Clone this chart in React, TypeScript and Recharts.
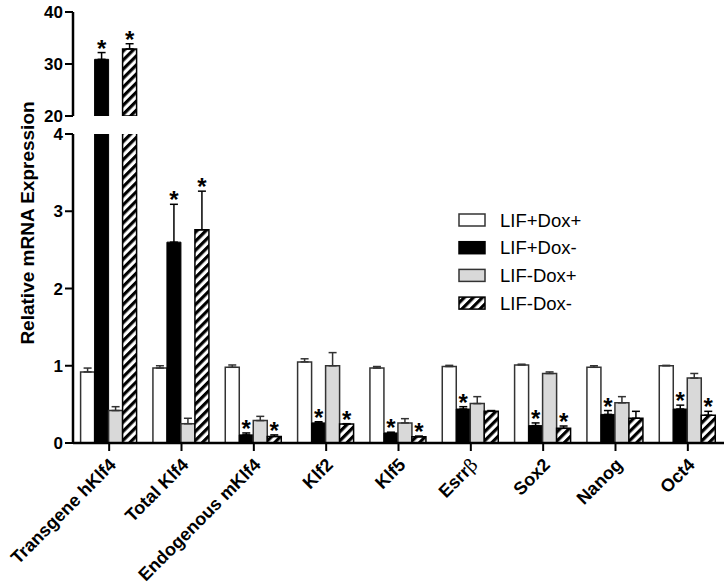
import React from "react";
import { BarChart, Bar, XAxis, YAxis, ErrorBar, LabelList, Legend } from "recharts";

const categories = [
  "Transgene hKlf4",
  "Total Klf4",
  "Endogenous mKlf4",
  "Klf2",
  "Klf5",
  "Esrrβ",
  "Sox2",
  "Nanog",
  "Oct4",
];

const seriesNames = ["LIF+Dox+", "LIF+Dox-", "LIF-Dox+", "LIF-Dox-"];

const lifDoxPos = [0.92, 0.97, 0.98, 1.05, 0.97, 0.99, 1.01, 0.98, 1.0];
const lifDoxPosErr = [0.05, 0.03, 0.03, 0.04, 0.02, 0.015, 0.01, 0.02, 0.005];

const lifDoxNeg = [30.9, 2.6, 0.105, 0.26, 0.13, 0.44, 0.225, 0.37, 0.44];
const lifDoxNegErr = [1.3, 0.49, 0.025, 0.015, 0.01, 0.03, 0.035, 0.05, 0.05];

const noLifDoxPos = [0.42, 0.25, 0.29, 1.0, 0.26, 0.51, 0.9, 0.52, 0.84];
const noLifDoxPosErr = [0.05, 0.07, 0.055, 0.17, 0.055, 0.09, 0.02, 0.08, 0.06];

const noLifDoxNeg = [32.9, 2.76, 0.085, 0.245, 0.08, 0.41, 0.19, 0.32, 0.36];
const noLifDoxNegErr = [1.0, 0.5, 0.02, 0.005, 0.01, 0.01, 0.03, 0.09, 0.05];

const sigLifDoxNeg = [true, true, true, true, true, true, true, true, true];
const sigNoLifDoxNeg = [true, true, true, true, true, false, true, false, true];

const lowerTicks = [0, 1, 2, 3, 4];
const upperTicks = [20, 30, 40];
const LOW_MAX = 4;
const HIGH_MIN = 20;
const HIGH_MAX = 40;

const FONT = '"Liberation Sans", Arial, Helvetica, sans-serif';

const inLow = (v: number) => v <= LOW_MAX;
const inHigh = (v: number) => v >= HIGH_MIN;

const lowerData = categories.map((name, i) => ({
  name,
  a: lifDoxPos[i],
  aErr: inLow(lifDoxPos[i]) ? [0, lifDoxPosErr[i]] : null,
  b: lifDoxNeg[i],
  bErr: inLow(lifDoxNeg[i]) ? [0, lifDoxNegErr[i]] : null,
  bSig: inLow(lifDoxNeg[i]) && sigLifDoxNeg[i] ? 1 : null,
  c: noLifDoxPos[i],
  cErr: inLow(noLifDoxPos[i]) ? [0, noLifDoxPosErr[i]] : null,
  d: noLifDoxNeg[i],
  dErr: inLow(noLifDoxNeg[i]) ? [0, noLifDoxNegErr[i]] : null,
  dSig: inLow(noLifDoxNeg[i]) && sigNoLifDoxNeg[i] ? 1 : null,
}));

const upperData = categories.map((name, i) => ({
  name,
  a: inHigh(lifDoxPos[i]) ? lifDoxPos[i] : null,
  aErr: inHigh(lifDoxPos[i]) ? [0, lifDoxPosErr[i]] : null,
  b: inHigh(lifDoxNeg[i]) ? lifDoxNeg[i] : null,
  bErr: inHigh(lifDoxNeg[i]) ? [0, lifDoxNegErr[i]] : null,
  bSig: inHigh(lifDoxNeg[i]) && sigLifDoxNeg[i] ? 1 : null,
  c: inHigh(noLifDoxPos[i]) ? noLifDoxPos[i] : null,
  cErr: inHigh(noLifDoxPos[i]) ? [0, noLifDoxPosErr[i]] : null,
  d: inHigh(noLifDoxNeg[i]) ? noLifDoxNeg[i] : null,
  dErr: inHigh(noLifDoxNeg[i]) ? [0, noLifDoxNegErr[i]] : null,
  dSig: inHigh(noLifDoxNeg[i]) && sigNoLifDoxNeg[i] ? 1 : null,
}));

const makeStar = (values: number[], errs: number[], base: number) => (props: any) => {
  const { value, index } = props;
  const vb = props.viewBox && props.viewBox.height != null ? props.viewBox : props;
  const { x, y, width, height } = vb;
  if (!value || height == null || !isFinite(height)) return null;
  const v = values[index];
  const ppu = height / (v - base);
  const errTop = y - errs[index] * ppu;
  return (
    <text
      x={x + width / 2}
      y={errTop + 4}
      textAnchor="middle"
      fontSize={24}
      fontWeight="bold"
      fontFamily={FONT}
      fill="#000"
    >
      *
    </text>
  );
};

const XTick = (props: any) => {
  const { x, y, payload } = props;
  const ax = x + 8;
  const ay = y + 15;
  const label = String(payload.value);
  const hasBeta = label.endsWith("β");
  return (
    <text
      x={ax}
      y={ay}
      textAnchor="end"
      transform={`rotate(-45, ${ax}, ${ay})`}
      fontFamily={FONT}
      fontWeight="bold"
      fontSize={18}
      fill="#000"
    >
      {hasBeta ? (
        <>
          {label.slice(0, -1)}
          <tspan fontFamily='"DejaVu Serif", serif' fontWeight="normal">
            β
          </tspan>
        </>
      ) : (
        label
      )}
    </text>
  );
};

const HatchDef = ({ id }: { id: string }) => (
  <defs>
    <pattern
      id={id}
      patternUnits="userSpaceOnUse"
      width={6.4}
      height={6.4}
      patternTransform="rotate(45)"
    >
      <rect x={0} y={0} width={6.4} height={6.4} fill="#fff" />
      <rect x={0} y={0} width={3.2} height={6.4} fill="#000" />
    </pattern>
  </defs>
);

const swatchFill = ["#ffffff", "#000000", "#d9d9d9", "url(#hatchLegend)"];
const swatchStroke = ["#333", "#000", "#333", "#000"];

const renderLegend = () => (
  <svg width={160} height={112} style={{ display: "block", overflow: "visible" }}>
    <HatchDef id="hatchLegend" />
    {seriesNames.map((n, i) => {
      const cy = 15 + i * 27.7;
      return (
        <g key={n}>
          <rect
            x={4}
            y={cy - 6}
            width={26}
            height={12}
            fill={swatchFill[i]}
            stroke={swatchStroke[i]}
            strokeWidth={1.5}
          />
          <text x={45} y={cy + 6.5} fontSize={18.5} fontFamily={FONT} fill="#000">
            {n}
          </text>
        </g>
      );
    })}
  </svg>
);

const YLabel = () => (
  <text
    x={27}
    y={223}
    transform="rotate(-90, 27, 223)"
    textAnchor="middle"
    dominantBaseline="central"
    fontFamily={FONT}
    fontWeight="bold"
    fontSize={19}
    fill="#000"
  >
    Relative mRNA Expression
  </text>
);

const axisLineStyle = { stroke: "#000", strokeWidth: 2.5 };
const tickLineStyle = { stroke: "#000", strokeWidth: 2 };
const yTickStyle = { fontSize: 17, fontWeight: "bold", fill: "#000", fontFamily: FONT };

const renderBars = (base: number, hatchId: string) => [
  <Bar key="a" dataKey="a" fill="#ffffff" stroke="#333" strokeWidth={1.5} isAnimationActive={false}>
    <ErrorBar dataKey="aErr" width={4} stroke="#333" strokeWidth={1.5} direction="y" />
  </Bar>,
  <Bar key="b" dataKey="b" fill="#000000" stroke="#000" strokeWidth={1} isAnimationActive={false}>
    <ErrorBar dataKey="bErr" width={4} stroke="#000" strokeWidth={1.5} direction="y" />
    <LabelList dataKey="bSig" content={makeStar(lifDoxNeg, lifDoxNegErr, base)} />
  </Bar>,
  <Bar key="c" dataKey="c" fill="#d9d9d9" stroke="#333" strokeWidth={1.5} isAnimationActive={false}>
    <ErrorBar dataKey="cErr" width={4} stroke="#333" strokeWidth={1.5} direction="y" />
  </Bar>,
  <Bar key="d" dataKey="d" fill={`url(#${hatchId})`} stroke="#000" strokeWidth={1.5} isAnimationActive={false}>
    <ErrorBar dataKey="dErr" width={4} stroke="#000" strokeWidth={1.5} direction="y" />
    <LabelList dataKey="dSig" content={makeStar(noLifDoxNeg, noLifDoxNegErr, base)} />
  </Bar>,
];

export default function App() {
  return (
    <div
      style={{
        position: "absolute",
        left: 0,
        top: 0,
        width: 728,
        height: 586,
        background: "#fff",
        fontFamily: FONT,
      }}
    >
      <div style={{ position: "absolute", left: 0, top: 0 }}>
        <BarChart
          width={728}
          height={586}
          data={lowerData}
          margin={{ top: 134, right: 4, left: 0, bottom: 0 }}
          barCategoryGap="10.5%"
          barGap={0}
        >
          <HatchDef id="hatchLower" />
          <XAxis
            dataKey="name"
            height={143}
            interval={0}
            tickSize={8}
            tickMargin={0}
            axisLine={axisLineStyle}
            tickLine={tickLineStyle}
            tick={<XTick />}
          />
          <YAxis
            width={73}
            domain={[0, LOW_MAX]}
            ticks={lowerTicks}
            interval={0}
            allowDataOverflow
            tickSize={8}
            tickMargin={2}
            axisLine={axisLineStyle}
            tickLine={tickLineStyle}
            tick={yTickStyle}
            label={{ content: () => <YLabel /> }}
          />
          <Legend
            layout="vertical"
            align="center"
            verticalAlign="middle"
            content={renderLegend}
            wrapperStyle={{ left: 455, top: 205, width: 160, height: 112 }}
          />
          {renderBars(0, "hatchLower")}
        </BarChart>
      </div>
      <div style={{ position: "absolute", left: 0, top: 0 }}>
        <BarChart
          width={728}
          height={126}
          data={upperData}
          margin={{ top: 12, right: 4, left: 0, bottom: 10 }}
          barCategoryGap="10.5%"
          barGap={0}
        >
          <HatchDef id="hatchUpper" />
          <XAxis dataKey="name" hide />
          <YAxis
            width={73}
            domain={[HIGH_MIN, HIGH_MAX]}
            ticks={upperTicks}
            interval={0}
            allowDataOverflow
            tickSize={8}
            tickMargin={2}
            axisLine={axisLineStyle}
            tickLine={tickLineStyle}
            tick={yTickStyle}
          />
          {renderBars(HIGH_MIN, "hatchUpper")}
        </BarChart>
      </div>
    </div>
  );
}
